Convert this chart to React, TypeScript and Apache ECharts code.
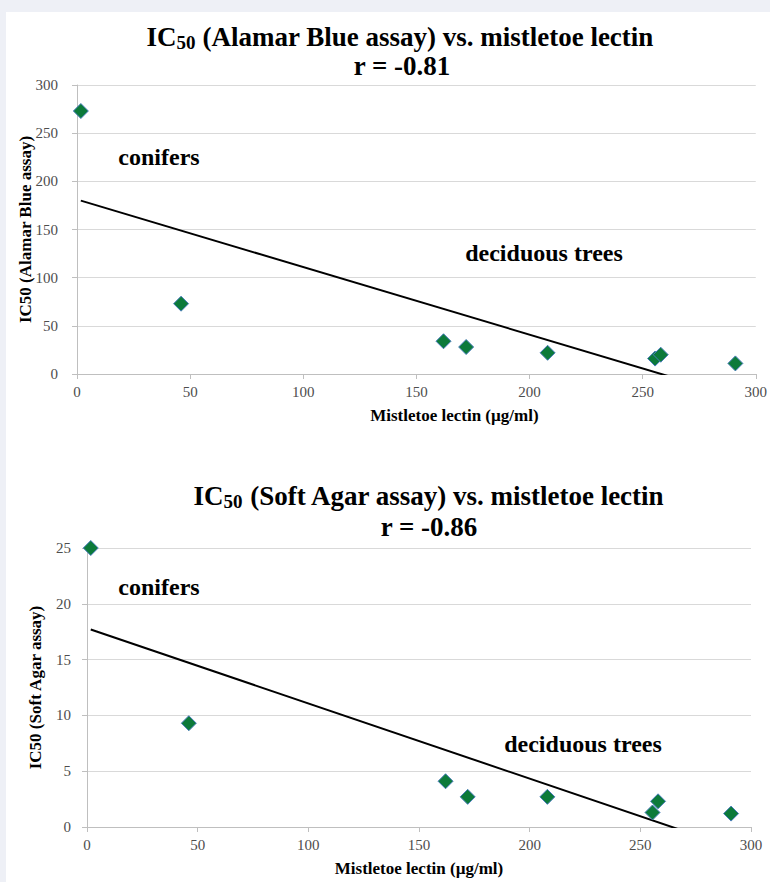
import React, { useEffect, useRef } from "react";
import * as echarts from "echarts";

const lectin = [1.7, 46, 162, 172, 208, 255.5, 258, 291];
const ic50Alamar = [273, 73, 34, 28, 22, 16, 20, 11];
const ic50Agar = [25, 9.3, 4.1, 2.7, 2.7, 1.3, 2.3, 1.2];

const trendX = [1.7, 291];
const trendAlamar = [180, -23];
const trendAgar = [17.7, -1.8];

const titleAlamar = ["IC", "50", " (Alamar Blue assay) vs. mistletoe lectin"];
const titleAgar = ["IC", "50", " (Soft Agar assay) vs. mistletoe lectin"];
const rAlamar = "r = -0.81";
const rAgar = "r = -0.86";
const xName = "Mistletoe lectin (µg/ml)";
const yNameAlamar = "IC50 (Alamar Blue assay)";
const yNameAgar = "IC50 (Soft Agar assay)";
const groupLabels = ["conifers", "deciduous trees"];

const FONT = "'Liberation Serif', 'Times New Roman', serif";

export default function App() {
  const ref = useRef<HTMLDivElement>(null);
  useEffect(() => {
    if (!ref.current) return;
    const chart = echarts.init(ref.current, null, { renderer: "svg" });
    const pts = (ys: number[]) => lectin.map((x, i) => [x, ys[i]]);
    const trend = (ys: number[]) => trendX.map((x, i) => [x, ys[i]]);
    const richTitle = {
      a: { fontFamily: FONT, fontWeight: "bold", fontSize: 27, color: "#000", lineHeight: 30, verticalAlign: "middle" },
      s: { fontFamily: FONT, fontWeight: "bold", fontSize: 19, color: "#000", lineHeight: 6, verticalAlign: "bottom" },
    };
    const tStyle = { fontFamily: FONT, fontWeight: "bold", fontSize: 27, color: "#000" };
    const axisCommon = {
      axisLine: { show: true, lineStyle: { color: "#bfbfbf", width: 1 } },
      axisTick: { show: true, length: 5, lineStyle: { color: "#bfbfbf" } },
      axisLabel: { fontFamily: FONT, fontSize: 15, color: "#4d4d4d" },
      nameTextStyle: { fontFamily: FONT, fontWeight: "bold", fontSize: 17, color: "#000" },
      nameMoveOverlap: false,
    };
    const scatterStyle = {
      type: "scatter",
      symbol: "diamond",
      symbolSize: 15,
      itemStyle: { color: "#0c7a3a", borderColor: "#4a7ebb", borderWidth: 1, opacity: 1 },
      z: 5,
    };
    const lineStyle = {
      type: "line",
      symbol: "none",
      clip: true,
      lineStyle: { color: "#000", width: 2 },
      z: 3,
    };
    const annStyle = { fontFamily: FONT, fontWeight: "bold", fontSize: 24, fill: "#000" };
    chart.setOption({
      animation: false,
      backgroundColor: "#eef0f6",
      title: [
        { text: `{a|${titleAlamar[0]}}{s|${titleAlamar[1]}}{a|${titleAlamar[2]}}`, left: 395, top: 17, textAlign: "center", textStyle: { rich: richTitle } },
        { text: rAlamar, left: 397, top: 47, textAlign: "center", textStyle: tStyle },
        { text: `{a|${titleAgar[0]}}{s|${titleAgar[1]}}{a|${titleAgar[2]}}`, left: 424, top: 476, textAlign: "center", textStyle: { rich: richTitle } },
        { text: rAgar, left: 424, top: 508, textAlign: "center", textStyle: tStyle },
      ],
      graphic: [
        { type: "rect", z: -100, silent: true, shape: { x: 6, y: 12, width: 764, height: 870 }, style: { fill: "#ffffff" } },
        { type: "text", x: 159, y: 157, style: { ...annStyle, text: groupLabels[0], align: "center", verticalAlign: "middle" } },
        { type: "text", x: 544, y: 253, style: { ...annStyle, text: groupLabels[1], align: "center", verticalAlign: "middle" } },
        { type: "text", x: 159, y: 587, style: { ...annStyle, text: groupLabels[0], align: "center", verticalAlign: "middle" } },
        { type: "text", x: 583, y: 744, style: { ...annStyle, text: groupLabels[1], align: "center", verticalAlign: "middle" } },
      ],
      grid: [
        { left: 77, top: 85, width: 680, height: 289 },
        { left: 87, top: 548, width: 664, height: 279 },
      ],
      xAxis: [
        {
          ...axisCommon, gridIndex: 0, type: "value", min: 0, max: 300, interval: 50,
          splitLine: { show: false }, name: xName, nameLocation: "middle", nameGap: 33,
          nameTextStyle: { ...axisCommon.nameTextStyle, padding: [0, 0, 0, 76] },
          axisLabel: { ...axisCommon.axisLabel, margin: 10 },
        },
        {
          ...axisCommon, gridIndex: 1, type: "value", min: 0, max: 300, interval: 50,
          splitLine: { show: false }, name: xName, nameLocation: "middle", nameGap: 33,
          axisLabel: { ...axisCommon.axisLabel, margin: 10 },
        },
      ],
      yAxis: [
        {
          ...axisCommon, gridIndex: 0, type: "value", min: 0, max: 300, interval: 50,
          splitLine: { show: true, lineStyle: { color: "#d9d9d9", width: 1 } },
          name: yNameAlamar, nameLocation: "middle", nameGap: 43, nameRotate: 90,
          axisLabel: { ...axisCommon.axisLabel, margin: 19 },
        },
        {
          ...axisCommon, gridIndex: 1, type: "value", min: 0, max: 25, interval: 5,
          splitLine: { show: true, lineStyle: { color: "#d9d9d9", width: 1 } },
          name: yNameAgar, nameLocation: "middle", nameGap: 43, nameRotate: 90,
          axisLabel: { ...axisCommon.axisLabel, margin: 16 },
        },
      ],
      series: [
        { ...lineStyle, xAxisIndex: 0, yAxisIndex: 0, data: trend(trendAlamar) },
        { ...scatterStyle, xAxisIndex: 0, yAxisIndex: 0, data: pts(ic50Alamar) },
        { ...lineStyle, xAxisIndex: 1, yAxisIndex: 1, data: trend(trendAgar) },
        { ...scatterStyle, xAxisIndex: 1, yAxisIndex: 1, data: pts(ic50Agar) },
      ],
    });
    return () => chart.dispose();
  }, []);
  return (
    <div
      ref={ref}
      style={{ position: "fixed", left: 0, top: 0, width: 770, height: 882 }}
    />
  );
}
